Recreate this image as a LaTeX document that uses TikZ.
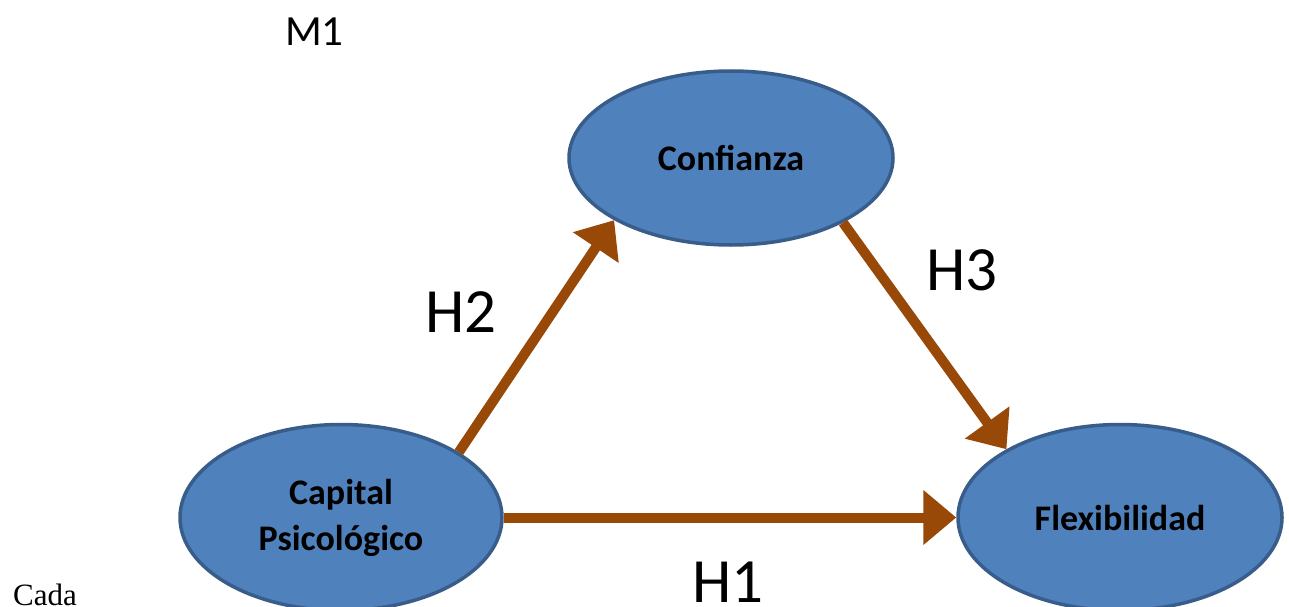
\documentclass[tikz,border=0pt]{standalone}
\usepackage{fontspec}
\setmainfont{Carlito}
\newfontfamily\serifcap{Liberation Serif}
\usetikzlibrary{arrows.meta,shapes.geometric}
\definecolor{varfill}{HTML}{4F81BD}
\definecolor{varedge}{HTML}{385D8A}
\definecolor{pathbrown}{HTML}{984807}
\tikzset{
  construct/.style={ellipse, draw=varedge, fill=varfill, line width=3.5pt,
    inner sep=0pt, align=center,
    font=\bfseries\fontsize{36}{46}\selectfont},
  hyp/.style={draw=pathbrown, line width=10pt,
    -{Triangle[length=33pt,width=53pt]}},
  hyplabel/.style={inner sep=0pt, font=\fontsize{63}{70}\selectfont},
}
\begin{document}
\begin{tikzpicture}[x=1pt,y=-1pt]
\useasboundingbox (0,0) rectangle (1289,607);

% constructs of the model
\node[construct, minimum width=324pt, minimum height=174pt] (conf) at (731,158) {Confianza};
\node[construct, minimum width=322pt, minimum height=186pt] (cap) at (341,517.5) {Capital\\Psicológico};
\node[construct, minimum width=324pt, minimum height=186pt] (flex) at (1120,517.5) {Flexibilidad};

% hypothesised paths
\draw[hyp] (cap.0) -- (flex.180);
\draw[hyp] (cap.29.7) -- (conf.208.7);
\draw[hyp] (conf.330.3) -- (flex.149.5);

% labels
\node[inner sep=0pt, font=\fontsize{43}{50}\selectfont] (m1) at (314.5,31.5) {M1};
\node[hyplabel] (h1) at (728,582.5) {H1};
\node[hyplabel] (h2) at (461,312) {H2};
\node[hyplabel] (h3) at (962,270) {H3};
\node[inner sep=0pt, anchor=base west, font=\serifcap\fontsize{31}{36}\selectfont] (cada) at (13,605) {Cada};
\end{tikzpicture}
\end{document}
